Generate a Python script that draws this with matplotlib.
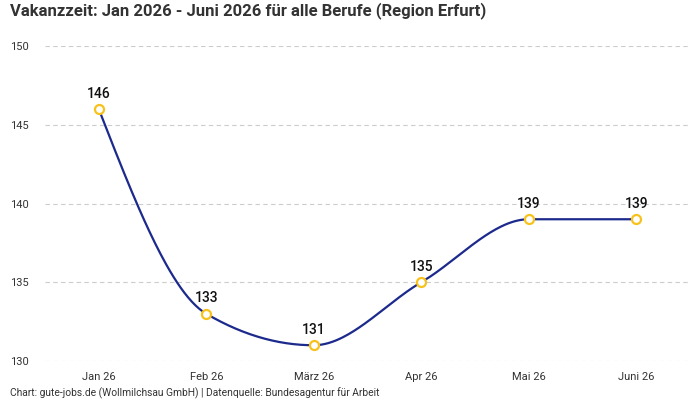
import numpy as np
import matplotlib
matplotlib.use("Agg")
import matplotlib.pyplot as plt

months = ["Jan 26", "Feb 26", "März 26", "Apr 26", "Mai 26", "Juni 26"]
values = [146, 133, 131, 135, 139, 139]
yticks = [130, 135, 140, 145, 150]

title = "Vakanzzeit: Jan 2026 - Juni 2026 für alle Berufe (Region Erfurt)"
footer = "Chart: gute-jobs.de (Wollmilchsau GmbH) | Datenquelle: Bundesagentur für Arbeit"

LINE = "#1b2a8c"
MARK = "#f8c21c"
TXT = "#333333"

plt.rcParams['font.family'] = ['Roboto', 'DejaVu Sans']


def monotone_x(x, y, n=60):
    x = np.asarray(x, float); y = np.asarray(y, float)
    m = len(x)
    h = np.diff(x); s = np.diff(y) / h
    t = np.zeros(m)
    for i in range(1, m - 1):
        s0, s1 = s[i - 1], s[i]
        p = (s0 * h[i] + s1 * h[i - 1]) / (h[i - 1] + h[i])
        t[i] = (np.sign(s0) + np.sign(s1)) * min(abs(s0), abs(s1), 0.5 * abs(p))
    t[0] = (3 * s[0] - t[1]) / 2
    t[-1] = (3 * s[-1] - t[-2]) / 2
    xs, ys = [], []
    u = np.linspace(0, 1, n)
    for i in range(m - 1):
        dx = h[i] / 3
        P0 = (x[i], y[i]); P1 = (x[i] + dx, y[i] + dx * t[i])
        P2 = (x[i + 1] - dx, y[i + 1] - dx * t[i + 1]); P3 = (x[i + 1], y[i + 1])
        for k in range(2):
            c = ((1 - u) ** 3 * P0[k] + 3 * (1 - u) ** 2 * u * P1[k]
                 + 3 * (1 - u) * u ** 2 * P2[k] + u ** 3 * P3[k])
            (xs if k == 0 else ys).append(c)
    return np.concatenate(xs), np.concatenate(ys)


fig = plt.figure(figsize=(7, 4), dpi=100)
ax = fig.add_axes([45 / 700, 1 - 361 / 400, 645 / 700, 315 / 400])

xpos = np.arange(len(months))
cx, cy = monotone_x(xpos, values)
ax.plot(cx, cy, color=LINE, lw=1.6, zorder=3, clip_on=False)
ax.plot(xpos, values, 'o', ms=6.5, mfc='white', mec=MARK, mew=1.6, zorder=4, clip_on=False)
for xi, v in zip(xpos, values):
    ax.annotate(str(v), (xi, v), xytext=(0, 6), textcoords='offset points',
                ha='center', va='bottom', fontsize=10, fontweight='medium', color='#111111')

ax.set_xlim(-0.5, len(months) - 0.5)
ax.set_ylim(130, 150)
ax.set_xticks(xpos)
ax.set_xticklabels(months)
ax.set_yticks(yticks)
ax.tick_params(axis='both', length=0, labelsize=8, colors=TXT)
ax.tick_params(axis='x', pad=8)
ax.tick_params(axis='y', pad=25)
for lab in ax.get_yticklabels():
    lab.set_horizontalalignment('left')
ax.grid(axis='y', color='#cccccc', ls=(0, (4, 3)), lw=0.8)
ax.set_axisbelow(True)
for sp in ax.spines.values():
    sp.set_visible(False)

fig.text(10 / 700, 1 - 11 / 400, title, fontsize=12, fontweight='bold', color=TXT, va='center', ha='left')
fig.text(10 / 700, 1 - 393 / 400, footer, fontsize=7.4, color=TXT, va='center', ha='left')

fig.savefig("out.png", dpi=100)
